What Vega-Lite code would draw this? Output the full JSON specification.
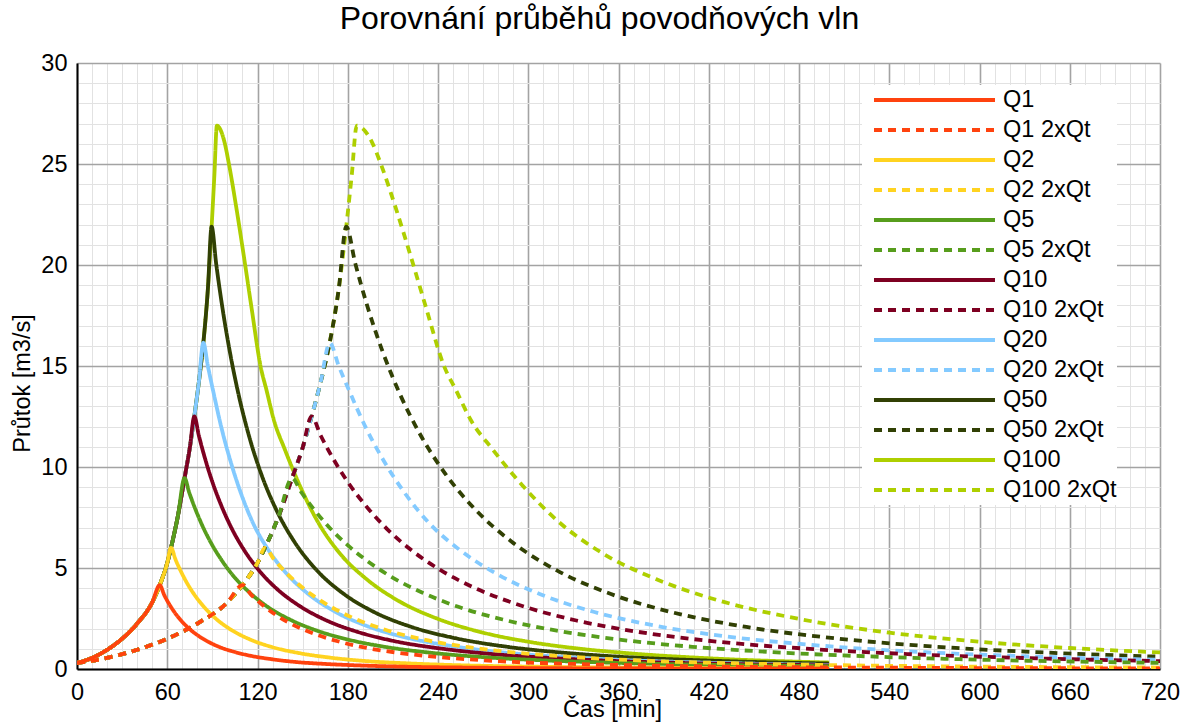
{
  "$schema": "https://vega.github.io/schema/vega-lite/v6.json",
  "width": 1083,
  "height": 606,
  "autosize": {"type": "none"},
  "padding": {"left": 77, "top": 63, "right": 25, "bottom": 53},
  "background": "white",
  "title": {"text": "Porovnání průběhů povodňových vln", "fontSize": 32, "font": "Liberation Sans", "fontWeight": "normal", "color": "black", "anchor": "middle", "offset": 15, "dx": -19},
  "config": {"view": {"stroke": null}, "font": "Liberation Sans"},
  "datasets": {
    "flows": [
      {"s":"Q100 2xQt","t":0,"q":0.3},{"s":"Q100 2xQt","t":20,"q":0.55},{"s":"Q100 2xQt","t":40,"q":0.95},{"s":"Q100 2xQt","t":60,"q":1.5},{"s":"Q100 2xQt","t":80,"q":2.25},{"s":"Q100 2xQt","t":100,"q":3.3},{"s":"Q100 2xQt","t":110,"q":4.15},{"s":"Q100 2xQt","t":120,"q":5.25},{"s":"Q100 2xQt","t":125,"q":6.0},{"s":"Q100 2xQt","t":134,"q":7.55},{"s":"Q100 2xQt","t":143,"q":9.45},{"s":"Q100 2xQt","t":150,"q":10.95},{"s":"Q100 2xQt","t":156,"q":12.5},{"s":"Q100 2xQt","t":162,"q":14.2},{"s":"Q100 2xQt","t":168,"q":16.15},{"s":"Q100 2xQt","t":174,"q":18.8},{"s":"Q100 2xQt","t":179,"q":21.9},{"s":"Q100 2xQt","t":182.6,"q":24.4},{"s":"Q100 2xQt","t":186,"q":26.9},{"s":"Q100 2xQt","t":190,"q":26.75},{"s":"Q100 2xQt","t":196,"q":26.1},{"s":"Q100 2xQt","t":202,"q":25.0},{"s":"Q100 2xQt","t":212,"q":22.8},{"s":"Q100 2xQt","t":222,"q":20.4},{"s":"Q100 2xQt","t":232,"q":17.9},{"s":"Q100 2xQt","t":244,"q":15.0},{"s":"Q100 2xQt","t":252,"q":13.8},{"s":"Q100 2xQt","t":262,"q":12.3},{"s":"Q100 2xQt","t":276,"q":10.9},{"s":"Q100 2xQt","t":296,"q":9.1},{"s":"Q100 2xQt","t":320,"q":7.3},{"s":"Q100 2xQt","t":350,"q":5.7},{"s":"Q100 2xQt","t":386,"q":4.42},{"s":"Q100 2xQt","t":430,"q":3.32},{"s":"Q100 2xQt","t":480,"q":2.48},{"s":"Q100 2xQt","t":540,"q":1.8},{"s":"Q100 2xQt","t":600,"q":1.35},{"s":"Q100 2xQt","t":660,"q":1.04},{"s":"Q100 2xQt","t":720,"q":0.82},
      {"s":"Q100","t":0,"q":0.3},{"s":"Q100","t":10,"q":0.55},{"s":"Q100","t":20,"q":0.95},{"s":"Q100","t":30,"q":1.5},{"s":"Q100","t":40,"q":2.25},{"s":"Q100","t":50,"q":3.3},{"s":"Q100","t":55,"q":4.15},{"s":"Q100","t":60,"q":5.25},{"s":"Q100","t":62.5,"q":6.0},{"s":"Q100","t":67,"q":7.55},{"s":"Q100","t":71.5,"q":9.45},{"s":"Q100","t":75,"q":10.95},{"s":"Q100","t":78,"q":12.5},{"s":"Q100","t":81,"q":14.2},{"s":"Q100","t":84,"q":16.15},{"s":"Q100","t":87,"q":18.8},{"s":"Q100","t":89.5,"q":21.9},{"s":"Q100","t":91.3,"q":24.4},{"s":"Q100","t":93,"q":26.9},{"s":"Q100","t":95,"q":26.75},{"s":"Q100","t":98,"q":26.1},{"s":"Q100","t":101,"q":25.0},{"s":"Q100","t":106,"q":22.8},{"s":"Q100","t":111,"q":20.4},{"s":"Q100","t":116,"q":17.9},{"s":"Q100","t":122,"q":15.0},{"s":"Q100","t":126,"q":13.8},{"s":"Q100","t":131,"q":12.3},{"s":"Q100","t":138,"q":10.9},{"s":"Q100","t":148,"q":9.1},{"s":"Q100","t":160,"q":7.3},{"s":"Q100","t":175,"q":5.7},{"s":"Q100","t":193,"q":4.42},{"s":"Q100","t":215,"q":3.32},{"s":"Q100","t":240,"q":2.48},{"s":"Q100","t":270,"q":1.8},{"s":"Q100","t":300,"q":1.35},{"s":"Q100","t":330,"q":1.04},{"s":"Q100","t":360,"q":0.82},{"s":"Q100","t":420,"q":0.53},{"s":"Q100","t":500,"q":0.32},
      {"s":"Q50 2xQt","t":0,"q":0.3},{"s":"Q50 2xQt","t":20,"q":0.55},{"s":"Q50 2xQt","t":40,"q":0.95},{"s":"Q50 2xQt","t":60,"q":1.5},{"s":"Q50 2xQt","t":80,"q":2.25},{"s":"Q50 2xQt","t":100,"q":3.3},{"s":"Q50 2xQt","t":110,"q":4.15},{"s":"Q50 2xQt","t":120,"q":5.25},{"s":"Q50 2xQt","t":125,"q":6.0},{"s":"Q50 2xQt","t":134,"q":7.55},{"s":"Q50 2xQt","t":143,"q":9.45},{"s":"Q50 2xQt","t":150,"q":10.95},{"s":"Q50 2xQt","t":156,"q":12.5},{"s":"Q50 2xQt","t":162,"q":14.2},{"s":"Q50 2xQt","t":168,"q":16.15},{"s":"Q50 2xQt","t":174,"q":18.8},{"s":"Q50 2xQt","t":179,"q":21.9},{"s":"Q50 2xQt","t":185,"q":20.08},{"s":"Q50 2xQt","t":193,"q":17.97},{"s":"Q50 2xQt","t":203,"q":15.75},{"s":"Q50 2xQt","t":215,"q":13.56},{"s":"Q50 2xQt","t":229,"q":11.5},{"s":"Q50 2xQt","t":245,"q":9.65},{"s":"Q50 2xQt","t":265,"q":7.88},{"s":"Q50 2xQt","t":289,"q":6.3},{"s":"Q50 2xQt","t":319,"q":4.88},{"s":"Q50 2xQt","t":355,"q":3.71},{"s":"Q50 2xQt","t":395,"q":2.82},{"s":"Q50 2xQt","t":445,"q":2.08},{"s":"Q50 2xQt","t":505,"q":1.51},{"s":"Q50 2xQt","t":575,"q":1.085},{"s":"Q50 2xQt","t":655,"q":0.78},{"s":"Q50 2xQt","t":720,"q":0.61},
      {"s":"Q50","t":0,"q":0.3},{"s":"Q50","t":10,"q":0.55},{"s":"Q50","t":20,"q":0.95},{"s":"Q50","t":30,"q":1.5},{"s":"Q50","t":40,"q":2.25},{"s":"Q50","t":50,"q":3.3},{"s":"Q50","t":55,"q":4.15},{"s":"Q50","t":60,"q":5.25},{"s":"Q50","t":62.5,"q":6.0},{"s":"Q50","t":67,"q":7.55},{"s":"Q50","t":71.5,"q":9.45},{"s":"Q50","t":75,"q":10.95},{"s":"Q50","t":78,"q":12.5},{"s":"Q50","t":81,"q":14.2},{"s":"Q50","t":84,"q":16.15},{"s":"Q50","t":87,"q":18.8},{"s":"Q50","t":89.5,"q":21.9},{"s":"Q50","t":92.5,"q":20.08},{"s":"Q50","t":96.5,"q":17.97},{"s":"Q50","t":101.5,"q":15.75},{"s":"Q50","t":107.5,"q":13.56},{"s":"Q50","t":114.5,"q":11.5},{"s":"Q50","t":122.5,"q":9.65},{"s":"Q50","t":132.5,"q":7.88},{"s":"Q50","t":144.5,"q":6.3},{"s":"Q50","t":159.5,"q":4.88},{"s":"Q50","t":177.5,"q":3.71},{"s":"Q50","t":197.5,"q":2.82},{"s":"Q50","t":222.5,"q":2.08},{"s":"Q50","t":252.5,"q":1.51},{"s":"Q50","t":287.5,"q":1.085},{"s":"Q50","t":327.5,"q":0.78},{"s":"Q50","t":360,"q":0.61},{"s":"Q50","t":420,"q":0.416},{"s":"Q50","t":500,"q":0.27},
      {"s":"Q20 2xQt","t":0,"q":0.3},{"s":"Q20 2xQt","t":20,"q":0.55},{"s":"Q20 2xQt","t":40,"q":0.95},{"s":"Q20 2xQt","t":60,"q":1.5},{"s":"Q20 2xQt","t":80,"q":2.25},{"s":"Q20 2xQt","t":100,"q":3.3},{"s":"Q20 2xQt","t":110,"q":4.15},{"s":"Q20 2xQt","t":120,"q":5.25},{"s":"Q20 2xQt","t":125,"q":6.0},{"s":"Q20 2xQt","t":134,"q":7.55},{"s":"Q20 2xQt","t":143,"q":9.45},{"s":"Q20 2xQt","t":150,"q":10.95},{"s":"Q20 2xQt","t":156,"q":12.5},{"s":"Q20 2xQt","t":162,"q":14.2},{"s":"Q20 2xQt","t":168,"q":16.15},{"s":"Q20 2xQt","t":174,"q":15.0},{"s":"Q20 2xQt","t":182,"q":13.6},{"s":"Q20 2xQt","t":192,"q":11.95},{"s":"Q20 2xQt","t":204,"q":10.3},{"s":"Q20 2xQt","t":218,"q":8.7},{"s":"Q20 2xQt","t":234,"q":7.23},{"s":"Q20 2xQt","t":254,"q":5.92},{"s":"Q20 2xQt","t":278,"q":4.75},{"s":"Q20 2xQt","t":308,"q":3.7},{"s":"Q20 2xQt","t":344,"q":2.82},{"s":"Q20 2xQt","t":384,"q":2.15},{"s":"Q20 2xQt","t":434,"q":1.59},{"s":"Q20 2xQt","t":494,"q":1.16},{"s":"Q20 2xQt","t":564,"q":0.83},{"s":"Q20 2xQt","t":644,"q":0.6},{"s":"Q20 2xQt","t":720,"q":0.455},
      {"s":"Q20","t":0,"q":0.3},{"s":"Q20","t":10,"q":0.55},{"s":"Q20","t":20,"q":0.95},{"s":"Q20","t":30,"q":1.5},{"s":"Q20","t":40,"q":2.25},{"s":"Q20","t":50,"q":3.3},{"s":"Q20","t":55,"q":4.15},{"s":"Q20","t":60,"q":5.25},{"s":"Q20","t":62.5,"q":6.0},{"s":"Q20","t":67,"q":7.55},{"s":"Q20","t":71.5,"q":9.45},{"s":"Q20","t":75,"q":10.95},{"s":"Q20","t":78,"q":12.5},{"s":"Q20","t":81,"q":14.2},{"s":"Q20","t":84,"q":16.15},{"s":"Q20","t":87,"q":15.0},{"s":"Q20","t":91,"q":13.6},{"s":"Q20","t":96,"q":11.95},{"s":"Q20","t":102,"q":10.3},{"s":"Q20","t":109,"q":8.7},{"s":"Q20","t":117,"q":7.23},{"s":"Q20","t":127,"q":5.92},{"s":"Q20","t":139,"q":4.75},{"s":"Q20","t":154,"q":3.7},{"s":"Q20","t":172,"q":2.82},{"s":"Q20","t":192,"q":2.15},{"s":"Q20","t":217,"q":1.59},{"s":"Q20","t":247,"q":1.16},{"s":"Q20","t":282,"q":0.83},{"s":"Q20","t":322,"q":0.6},{"s":"Q20","t":360,"q":0.455},{"s":"Q20","t":420,"q":0.31},{"s":"Q20","t":500,"q":0.2},
      {"s":"Q10 2xQt","t":0,"q":0.3},{"s":"Q10 2xQt","t":20,"q":0.55},{"s":"Q10 2xQt","t":40,"q":0.95},{"s":"Q10 2xQt","t":60,"q":1.5},{"s":"Q10 2xQt","t":80,"q":2.25},{"s":"Q10 2xQt","t":100,"q":3.3},{"s":"Q10 2xQt","t":110,"q":4.15},{"s":"Q10 2xQt","t":120,"q":5.25},{"s":"Q10 2xQt","t":125,"q":6.0},{"s":"Q10 2xQt","t":134,"q":7.55},{"s":"Q10 2xQt","t":143,"q":9.45},{"s":"Q10 2xQt","t":150,"q":10.95},{"s":"Q10 2xQt","t":156,"q":12.5},{"s":"Q10 2xQt","t":162,"q":11.56},{"s":"Q10 2xQt","t":170,"q":10.45},{"s":"Q10 2xQt","t":180,"q":9.26},{"s":"Q10 2xQt","t":192,"q":8.08},{"s":"Q10 2xQt","t":206,"q":6.94},{"s":"Q10 2xQt","t":222,"q":5.9},{"s":"Q10 2xQt","t":242,"q":4.88},{"s":"Q10 2xQt","t":266,"q":3.96},{"s":"Q10 2xQt","t":296,"q":3.12},{"s":"Q10 2xQt","t":332,"q":2.4},{"s":"Q10 2xQt","t":372,"q":1.85},{"s":"Q10 2xQt","t":422,"q":1.38},{"s":"Q10 2xQt","t":482,"q":1.02},{"s":"Q10 2xQt","t":552,"q":0.74},{"s":"Q10 2xQt","t":632,"q":0.54},{"s":"Q10 2xQt","t":720,"q":0.39},
      {"s":"Q10","t":0,"q":0.3},{"s":"Q10","t":10,"q":0.55},{"s":"Q10","t":20,"q":0.95},{"s":"Q10","t":30,"q":1.5},{"s":"Q10","t":40,"q":2.25},{"s":"Q10","t":50,"q":3.3},{"s":"Q10","t":55,"q":4.15},{"s":"Q10","t":60,"q":5.25},{"s":"Q10","t":62.5,"q":6.0},{"s":"Q10","t":67,"q":7.55},{"s":"Q10","t":71.5,"q":9.45},{"s":"Q10","t":75,"q":10.95},{"s":"Q10","t":78,"q":12.5},{"s":"Q10","t":81,"q":11.56},{"s":"Q10","t":85,"q":10.45},{"s":"Q10","t":90,"q":9.26},{"s":"Q10","t":96,"q":8.08},{"s":"Q10","t":103,"q":6.94},{"s":"Q10","t":111,"q":5.9},{"s":"Q10","t":121,"q":4.88},{"s":"Q10","t":133,"q":3.96},{"s":"Q10","t":148,"q":3.12},{"s":"Q10","t":166,"q":2.4},{"s":"Q10","t":186,"q":1.85},{"s":"Q10","t":211,"q":1.38},{"s":"Q10","t":241,"q":1.02},{"s":"Q10","t":276,"q":0.74},{"s":"Q10","t":316,"q":0.54},{"s":"Q10","t":360,"q":0.39},{"s":"Q10","t":420,"q":0.27},{"s":"Q10","t":500,"q":0.18},
      {"s":"Q5 2xQt","t":0,"q":0.3},{"s":"Q5 2xQt","t":20,"q":0.55},{"s":"Q5 2xQt","t":40,"q":0.95},{"s":"Q5 2xQt","t":60,"q":1.5},{"s":"Q5 2xQt","t":80,"q":2.25},{"s":"Q5 2xQt","t":100,"q":3.3},{"s":"Q5 2xQt","t":110,"q":4.15},{"s":"Q5 2xQt","t":120,"q":5.25},{"s":"Q5 2xQt","t":125,"q":6.0},{"s":"Q5 2xQt","t":134,"q":7.55},{"s":"Q5 2xQt","t":143,"q":9.45},{"s":"Q5 2xQt","t":149,"q":8.76},{"s":"Q5 2xQt","t":157,"q":7.95},{"s":"Q5 2xQt","t":167,"q":7.07},{"s":"Q5 2xQt","t":179,"q":6.19},{"s":"Q5 2xQt","t":193,"q":5.35},{"s":"Q5 2xQt","t":209,"q":4.56},{"s":"Q5 2xQt","t":229,"q":3.8},{"s":"Q5 2xQt","t":253,"q":3.09},{"s":"Q5 2xQt","t":283,"q":2.45},{"s":"Q5 2xQt","t":319,"q":1.9},{"s":"Q5 2xQt","t":359,"q":1.47},{"s":"Q5 2xQt","t":409,"q":1.1},{"s":"Q5 2xQt","t":469,"q":0.81},{"s":"Q5 2xQt","t":539,"q":0.59},{"s":"Q5 2xQt","t":619,"q":0.43},{"s":"Q5 2xQt","t":720,"q":0.304},
      {"s":"Q5","t":0,"q":0.3},{"s":"Q5","t":10,"q":0.55},{"s":"Q5","t":20,"q":0.95},{"s":"Q5","t":30,"q":1.5},{"s":"Q5","t":40,"q":2.25},{"s":"Q5","t":50,"q":3.3},{"s":"Q5","t":55,"q":4.15},{"s":"Q5","t":60,"q":5.25},{"s":"Q5","t":62.5,"q":6.0},{"s":"Q5","t":67,"q":7.55},{"s":"Q5","t":71.5,"q":9.45},{"s":"Q5","t":74.5,"q":8.76},{"s":"Q5","t":78.5,"q":7.95},{"s":"Q5","t":83.5,"q":7.07},{"s":"Q5","t":89.5,"q":6.19},{"s":"Q5","t":96.5,"q":5.35},{"s":"Q5","t":104.5,"q":4.56},{"s":"Q5","t":114.5,"q":3.8},{"s":"Q5","t":126.5,"q":3.09},{"s":"Q5","t":141.5,"q":2.45},{"s":"Q5","t":159.5,"q":1.9},{"s":"Q5","t":179.5,"q":1.47},{"s":"Q5","t":204.5,"q":1.1},{"s":"Q5","t":234.5,"q":0.81},{"s":"Q5","t":269.5,"q":0.59},{"s":"Q5","t":309.5,"q":0.43},{"s":"Q5","t":360,"q":0.304},{"s":"Q5","t":420,"q":0.21},{"s":"Q5","t":500,"q":0.14},
      {"s":"Q2 2xQt","t":0,"q":0.3},{"s":"Q2 2xQt","t":20,"q":0.55},{"s":"Q2 2xQt","t":40,"q":0.95},{"s":"Q2 2xQt","t":60,"q":1.5},{"s":"Q2 2xQt","t":80,"q":2.25},{"s":"Q2 2xQt","t":100,"q":3.3},{"s":"Q2 2xQt","t":110,"q":4.15},{"s":"Q2 2xQt","t":120,"q":5.25},{"s":"Q2 2xQt","t":125,"q":6.0},{"s":"Q2 2xQt","t":131,"q":5.42},{"s":"Q2 2xQt","t":139,"q":4.77},{"s":"Q2 2xQt","t":147,"q":4.21},{"s":"Q2 2xQt","t":157,"q":3.63},{"s":"Q2 2xQt","t":169,"q":3.07},{"s":"Q2 2xQt","t":185,"q":2.48},{"s":"Q2 2xQt","t":205,"q":1.94},{"s":"Q2 2xQt","t":229,"q":1.48},{"s":"Q2 2xQt","t":259,"q":1.09},{"s":"Q2 2xQt","t":295,"q":0.79},{"s":"Q2 2xQt","t":335,"q":0.57},{"s":"Q2 2xQt","t":385,"q":0.39},{"s":"Q2 2xQt","t":445,"q":0.27},{"s":"Q2 2xQt","t":525,"q":0.17},{"s":"Q2 2xQt","t":600,"q":0.118},{"s":"Q2 2xQt","t":720,"q":0.072},
      {"s":"Q2","t":0,"q":0.3},{"s":"Q2","t":10,"q":0.55},{"s":"Q2","t":20,"q":0.95},{"s":"Q2","t":30,"q":1.5},{"s":"Q2","t":40,"q":2.25},{"s":"Q2","t":50,"q":3.3},{"s":"Q2","t":55,"q":4.15},{"s":"Q2","t":60,"q":5.25},{"s":"Q2","t":62.5,"q":6.0},{"s":"Q2","t":65.5,"q":5.42},{"s":"Q2","t":69.5,"q":4.77},{"s":"Q2","t":73.5,"q":4.21},{"s":"Q2","t":78.5,"q":3.63},{"s":"Q2","t":84.5,"q":3.07},{"s":"Q2","t":92.5,"q":2.48},{"s":"Q2","t":102.5,"q":1.94},{"s":"Q2","t":114.5,"q":1.48},{"s":"Q2","t":129.5,"q":1.09},{"s":"Q2","t":147.5,"q":0.79},{"s":"Q2","t":167.5,"q":0.57},{"s":"Q2","t":192.5,"q":0.39},{"s":"Q2","t":222.5,"q":0.27},{"s":"Q2","t":262.5,"q":0.17},{"s":"Q2","t":300,"q":0.118},{"s":"Q2","t":360,"q":0.072},{"s":"Q2","t":420,"q":0.046},{"s":"Q2","t":500,"q":0.028},
      {"s":"Q1 2xQt","t":0,"q":0.3},{"s":"Q1 2xQt","t":20,"q":0.55},{"s":"Q1 2xQt","t":40,"q":0.95},{"s":"Q1 2xQt","t":60,"q":1.5},{"s":"Q1 2xQt","t":80,"q":2.25},{"s":"Q1 2xQt","t":100,"q":3.3},{"s":"Q1 2xQt","t":110,"q":4.15},{"s":"Q1 2xQt","t":116,"q":3.66},{"s":"Q1 2xQt","t":124,"q":3.13},{"s":"Q1 2xQt","t":132,"q":2.69},{"s":"Q1 2xQt","t":140,"q":2.33},{"s":"Q1 2xQt","t":150,"q":1.97},{"s":"Q1 2xQt","t":160,"q":1.68},{"s":"Q1 2xQt","t":174,"q":1.36},{"s":"Q1 2xQt","t":190,"q":1.08},{"s":"Q1 2xQt","t":210,"q":0.84},{"s":"Q1 2xQt","t":230,"q":0.66},{"s":"Q1 2xQt","t":260,"q":0.48},{"s":"Q1 2xQt","t":290,"q":0.35},{"s":"Q1 2xQt","t":330,"q":0.25},{"s":"Q1 2xQt","t":380,"q":0.17},{"s":"Q1 2xQt","t":440,"q":0.11},{"s":"Q1 2xQt","t":520,"q":0.07},{"s":"Q1 2xQt","t":600,"q":0.047},{"s":"Q1 2xQt","t":720,"q":0.028},
      {"s":"Q1","t":0,"q":0.3},{"s":"Q1","t":10,"q":0.55},{"s":"Q1","t":20,"q":0.95},{"s":"Q1","t":30,"q":1.5},{"s":"Q1","t":40,"q":2.25},{"s":"Q1","t":50,"q":3.3},{"s":"Q1","t":55,"q":4.15},{"s":"Q1","t":58,"q":3.66},{"s":"Q1","t":62,"q":3.13},{"s":"Q1","t":66,"q":2.69},{"s":"Q1","t":70,"q":2.33},{"s":"Q1","t":75,"q":1.97},{"s":"Q1","t":80,"q":1.68},{"s":"Q1","t":87,"q":1.36},{"s":"Q1","t":95,"q":1.08},{"s":"Q1","t":105,"q":0.84},{"s":"Q1","t":115,"q":0.66},{"s":"Q1","t":130,"q":0.48},{"s":"Q1","t":145,"q":0.35},{"s":"Q1","t":165,"q":0.25},{"s":"Q1","t":190,"q":0.17},{"s":"Q1","t":220,"q":0.11},{"s":"Q1","t":260,"q":0.07},{"s":"Q1","t":300,"q":0.047},{"s":"Q1","t":360,"q":0.028},{"s":"Q1","t":420,"q":0.018},{"s":"Q1","t":500,"q":0.011}
    ]
  },
  "data": {"name": "flows"},
  "resolve": {"axis": {"x": "independent", "y": "independent"}},
  "layer": [
    {
      "mark": {"type": "line", "strokeWidth": 3.8, "interpolate": "monotone", "clip": true},
      "encoding": {
        "x": {"field": "t", "type": "quantitative", "scale": {"domain": [0, 720], "nice": false, "zero": false},
          "axis": {"orient": "bottom", "values": [10,20,30,40,50,70,80,90,100,110,130,140,150,160,170,190,200,210,220,230,250,260,270,280,290,310,320,330,340,350,370,380,390,400,410,430,440,450,460,470,490,500,510,520,530,550,560,570,580,590,610,620,630,640,650,670,680,690,700,710],
            "grid": true, "gridColor": "#e2e2e2", "gridWidth": 1, "labels": false, "ticks": false, "domain": false, "title": null}},
        "y": {"field": "q", "type": "quantitative", "scale": {"domain": [0, 30], "nice": false},
          "axis": {"orient": "left", "values": [1,2,3,4,6,7,8,9,11,12,13,14,16,17,18,19,21,22,23,24,26,27,28,29],
            "grid": true, "gridColor": "#e2e2e2", "gridWidth": 1, "labels": false, "ticks": false, "domain": false, "title": null}},
        "color": {"field": "s", "type": "nominal",
          "scale": {"domain": ["Q1","Q1 2xQt","Q2","Q2 2xQt","Q5","Q5 2xQt","Q10","Q10 2xQt","Q20","Q20 2xQt","Q50","Q50 2xQt","Q100","Q100 2xQt"],
            "range": ["#ff420e","#ff420e","#ffd320","#ffd320","#579d1c","#579d1c","#7e0021","#7e0021","#83caff","#83caff","#314004","#314004","#aecf00","#aecf00"]},
          "legend": {"title": null, "orient": "none", "legendX": 785, "legendY": 22, "symbolType": "stroke", "symbolSize": 14641, "symbolStrokeWidth": 3.8, "labelFontSize": 23.5, "labelFont": "Liberation Sans", "labelColor": "black", "fillColor": "white", "padding": 0, "symbolOffset": 10, "labelOffset": 6, "rowPadding": 0, "clipHeight": 30, "labelLimit": 300}},
        "strokeDash": {"field": "s", "type": "nominal",
          "scale": {"domain": ["Q1","Q1 2xQt","Q2","Q2 2xQt","Q5","Q5 2xQt","Q10","Q10 2xQt","Q20","Q20 2xQt","Q50","Q50 2xQt","Q100","Q100 2xQt"],
            "range": [[1,0],[8,6],[1,0],[8,6],[1,0],[8,6],[1,0],[8,6],[1,0],[8,6],[1,0],[8,6],[1,0],[8,6]]},
          "legend": {"title": null, "orient": "none", "legendX": 785, "legendY": 22, "symbolType": "stroke", "symbolSize": 14641, "symbolStrokeWidth": 3.8, "labelFontSize": 23.5, "labelFont": "Liberation Sans", "labelColor": "black", "fillColor": "white", "padding": 0, "symbolOffset": 10, "labelOffset": 6, "rowPadding": 0, "clipHeight": 30, "labelLimit": 300}}
      }
    },
    {
      "mark": {"type": "point", "opacity": 0},
      "encoding": {
        "x": {"field": "t", "type": "quantitative",
          "axis": {"orient": "bottom", "values": [0,60,120,180,240,300,360,420,480,540,600,660,720], "grid": true, "gridColor": "#a3a3a3", "gridWidth": 1.6,
            "ticks": false, "tickSize": 0, "labelPadding": 11, "labelFontSize": 23.5, "labelFont": "Liberation Sans", "labelColor": "black", "labelFlush": false,
            "domain": true, "domainColor": "black", "domainWidth": 2, "title": "Čas [min]", "titleFont": "Liberation Sans", "titleFontSize": 23.5, "titleFontWeight": "normal", "titleColor": "black", "titlePadding": -6, "titleX": 535}},
        "y": {"field": "q", "type": "quantitative",
          "axis": {"orient": "left", "values": [0,5,10,15,20,25,30], "grid": true, "gridColor": "#a3a3a3", "gridWidth": 1.6,
            "ticks": false, "tickSize": 0, "labelPadding": 10, "labelFontSize": 23.5, "labelFont": "Liberation Sans", "labelColor": "black", "labelFlush": false,
            "domain": true, "domainColor": "black", "domainWidth": 2, "title": "Průtok [m3/s]", "titleFont": "Liberation Sans", "titleFontSize": 23.5, "titleFontWeight": "normal", "titleColor": "black", "titlePadding": 6, "titleY": 320}}
      }
    }
  ]
}
